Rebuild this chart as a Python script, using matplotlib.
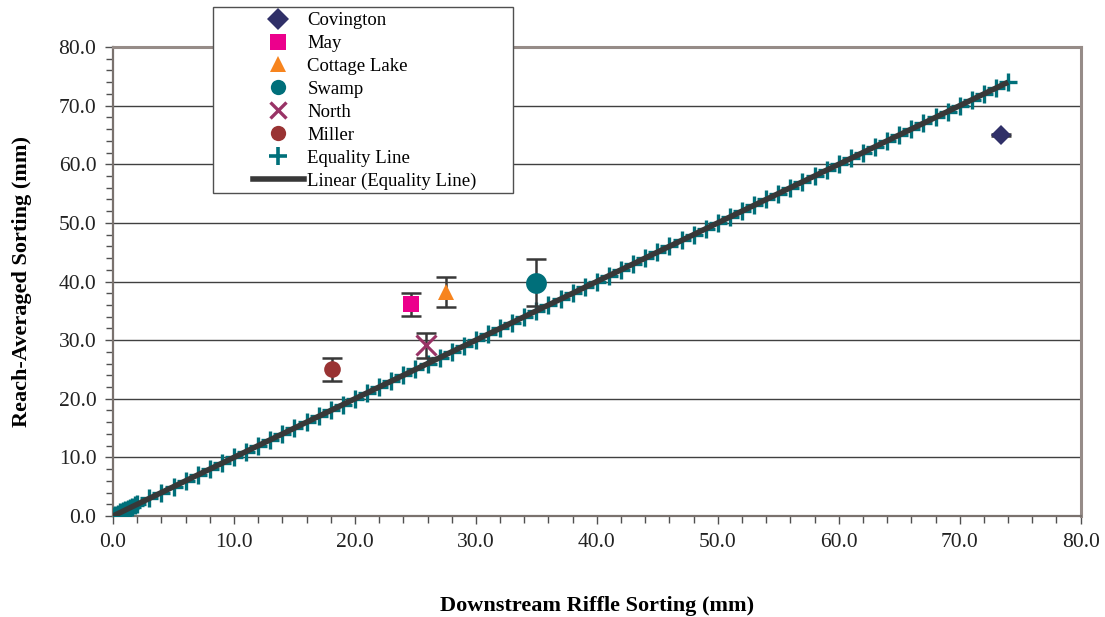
import numpy as np
import matplotlib
matplotlib.use("Agg")
import matplotlib.pyplot as plt
from matplotlib.lines import Line2D
from matplotlib.patches import Rectangle
from matplotlib.ticker import MultipleLocator, FormatStrFormatter

plt.rcParams["font.family"] = ["Liberation Serif", "DejaVu Serif"]

# ── data ────────────────────────────────────────────────────────
SITES = ["Covington", "May", "Cottage Lake", "Swamp", "North", "Miller"]
riffle_x = [73.4, 24.6, 27.5, 35.0, 25.9, 18.1]
reach_y = [65.0, 36.1, 38.2, 39.8, 29.1, 25.0]
reach_err = [0.2, 2.0, 2.5, 4.0, 2.2, 1.9]

# equality line sample points (y = x)
eq_x = [0.0, 0.2, 0.4, 0.6, 0.8, 1.0, 1.2, 1.4, 1.6, 1.8,
        2, 3, 4, 5, 6, 7, 8, 9, 10, 11, 12, 13, 14, 15, 16, 17, 18, 19,
        20, 21, 22, 23, 24, 25, 26, 27, 28, 29, 30, 31, 32, 33, 34, 35,
        36, 37, 38, 39, 40, 41, 42, 43, 44, 45, 46, 47, 48, 49, 50, 51,
        52, 53, 54, 55, 56, 57, 58, 59, 60, 61, 62, 63, 64, 65, 66, 67,
        68, 69, 70, 71, 72, 73, 74]
eq_y = list(eq_x)

# ── styles ──────────────────────────────────────────────────────
MARKERS = ["D", "s", "^", "o", "x", "o"]
COLORS = ["#303068", "#EC008C", "#F7841E", "#006F7A", "#993366", "#993333"]
SIZES = [10, 12, 12, 15, 15, 12]
TEAL = "#00707A"
LINE_C = "#383838"
SPINE_C = "#968C88"

fig = plt.figure(figsize=(11.05, 6.17), dpi=100)
ax = fig.add_axes([0.1023, 0.1637, 0.8757, 0.7601])

# equality line: plus markers + linear fit on top
ax.plot(eq_x, eq_y, ls="none", marker="+", ms=13, mew=2.4, color=TEAL,
        zorder=3)
fit = np.polyfit(eq_x, eq_y, 1)
fx = np.array([eq_x[0], eq_x[-1]])
ax.plot(fx, np.polyval(fit, fx), color=LINE_C, lw=4, zorder=4,
        solid_capstyle="butt")

# site points with error bars
for x, y, e, m, c, s in zip(riffle_x, reach_y, reach_err, MARKERS, COLORS,
                            SIZES):
    ax.errorbar(x, y, yerr=e, fmt="none", ecolor=LINE_C, elinewidth=1.8,
                capsize=7, capthick=1.8, zorder=5)
    mew = 2.2 if m == "x" else 0
    ax.plot(x, y, ls="none", marker=m, ms=s, color=c, mec=c, mew=mew,
            zorder=6)

ax.set_xlim(0, 80)
ax.set_ylim(0, 80)
ax.xaxis.set_major_locator(MultipleLocator(10))
ax.xaxis.set_minor_locator(MultipleLocator(2))
ax.yaxis.set_major_locator(MultipleLocator(10))
ax.yaxis.set_minor_locator(MultipleLocator(2))
ax.xaxis.set_major_formatter(FormatStrFormatter("%.1f"))
ax.yaxis.set_major_formatter(FormatStrFormatter("%.1f"))
ax.tick_params(which="both", direction="out", colors="#505050",
               labelcolor="#222222", labelsize=15.5, width=1)
ax.tick_params(which="major", length=6, pad=6)
ax.tick_params(which="minor", length=5)
ax.grid(axis="y", which="major", color="#404040", lw=1)
ax.set_axisbelow(True)
for side in ["top", "right"]:
    ax.spines[side].set_color(SPINE_C)
    ax.spines[side].set_linewidth(2.2)
for side in ["left", "bottom"]:
    ax.spines[side].set_color("#7A726E")
    ax.spines[side].set_linewidth(1.6)

ax.set_xlabel("Downstream Riffle Sorting (mm)", fontsize=16,
              fontweight="bold", labelpad=32)
ax.set_ylabel("Reach-Averaged Sorting (mm)", fontsize=16,
              fontweight="bold", labelpad=19)

# legend in a white box overlapping the top of the axes
box = Rectangle((213 / 1105, 1 - 193 / 617), 300 / 1105, 186 / 617,
                transform=fig.transFigure, facecolor="white",
                edgecolor="#505050", lw=1, zorder=10)
fig.patches.append(box)

handles = []
for lab, m, c in zip(SITES, MARKERS, COLORS):
    handles.append(Line2D([], [], ls="none", marker=m, color=c, mec=c,
                          ms=11, mew=2.4 if m == "x" else 0, label=lab))
handles.append(Line2D([], [], ls="none", marker="+", ms=13, mew=2.6,
                      color=TEAL, label="Equality Line"))
handles.append(Line2D([], [], color=LINE_C, lw=4, label="Linear (Equality Line)"))
leg = fig.legend(handles=handles, loc="upper left",
                 bbox_to_anchor=(253 / 1105, 1 - 12 / 617),
                 frameon=False, fontsize=13.5, handlelength=2.7,
                 handletextpad=0.2, labelspacing=0.31, borderpad=0,
                 borderaxespad=0)
leg.set_zorder(11)

fig.savefig("out.png", dpi=100)
